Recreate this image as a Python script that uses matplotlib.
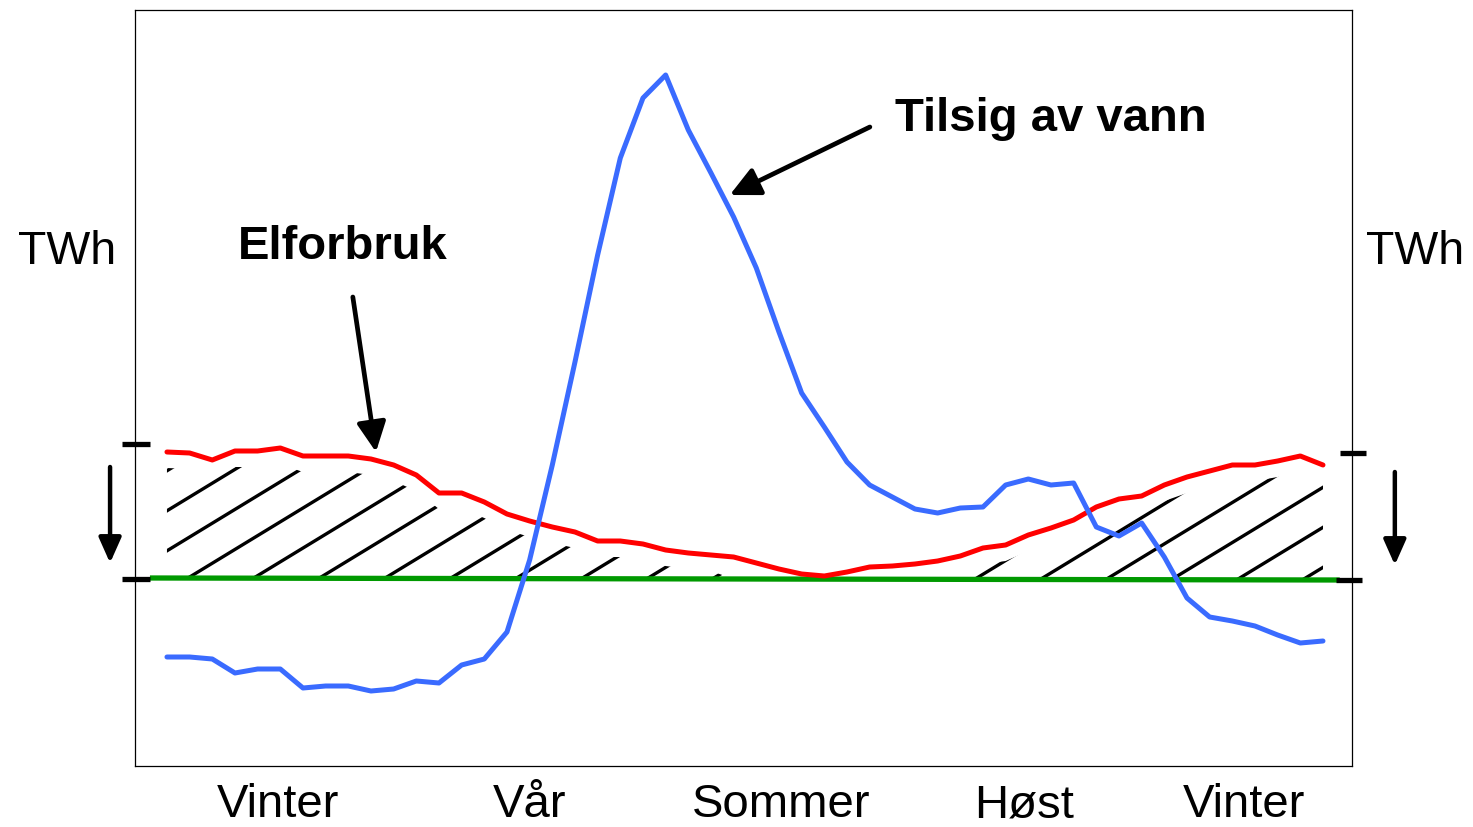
import numpy as np
import matplotlib
matplotlib.use("Agg")
import matplotlib.pyplot as plt
from matplotlib.collections import LineCollection
from matplotlib.path import Path
from matplotlib.transforms import blended_transform_factory

plt.rcParams['font.family'] = ['Liberation Sans', 'DejaVu Sans']

# ---- data (arbitrary TWh scale, week index 0..51) ----
weeks = np.arange(52)
tilsig = [-7.9, -7.9, -8.1, -9.5, -9.1, -9.1, -11.0, -10.8, -10.8, -11.3,
          -11.1, -10.3, -10.5, -8.7, -8.1, -5.4, 1.8, 11.3, 21.6, 32.3,
          42.0, 48.0, 50.3, 44.8, 40.5, 36.1, 31.0, 24.6, 18.5, 15.1,
          11.6, 9.3, 8.1, 6.9, 6.5, 7.0, 7.1, 9.3, 9.9, 9.3,
          9.5, 5.1, 4.2, 5.5, 2.1, -2.0, -3.9, -4.3, -4.8, -5.7,
          -6.5, -6.3]
elforbruk = [12.6, 12.5, 11.8, 12.7, 12.7, 13.0, 12.2, 12.2, 12.2, 11.9,
             11.3, 10.3, 8.5, 8.5, 7.6, 6.4, 5.7, 5.1, 4.6, 3.7,
             3.7, 3.4, 2.8, 2.5, 2.3, 2.1, 1.5, 0.9, 0.4, 0.2,
             0.6, 1.1, 1.2, 1.4, 1.7, 2.2, 3.0, 3.3, 4.3, 5.0,
             5.8, 7.1, 7.9, 8.2, 9.3, 10.1, 10.7, 11.3, 11.3, 11.7,
             12.2, 11.3]
base_x = [-0.75, 51.74]
base_y = [0.0, -0.2]
seasons = ['Vinter', 'Vår', 'Sommer', 'Høst', 'Vinter']
season_x = [4.9, 16.0, 27.1, 37.8, 47.5]

# ---- figure ----
W, H, DPI = 1473, 827, 100
fig = plt.figure(figsize=(W / DPI, H / DPI), dpi=DPI)
ax = fig.add_axes([135 / W, 1 - 766 / H, (1352 - 135) / W, (766 - 10) / H])
ax.set_xlim(-1.41, 52.28)
ax.set_ylim(-18.8, 56.8)
ax.set_xticks([])
ax.set_yticks([])
for s in ax.spines.values():
    s.set_linewidth(0.9)
    s.set_color('black')

el = np.array(elforbruk, dtype=float)
base_w = np.interp(weeks, base_x, base_y)

# hatch region between baseline and consumption curve
upper = el - 1.6
coll = ax.fill_between(weeks, base_w, upper, where=(el - base_w) >= 2.3,
                       interpolate=True, facecolor='none', edgecolor='none')
clip = Path.make_compound_path(*coll.get_paths())
slope = 1.38
spacing = 2.9
x0s = np.arange(0.93 - 10 * spacing, 60, spacing)
segs = [[(x0 - 1 / slope, -1), (x0 + 19 / slope, 19)] for x0 in x0s]
lc = LineCollection(segs, colors='black', linewidths=2.4, capstyle='butt', zorder=2)
ax.add_collection(lc)
lc.set_clip_path(clip, ax.transData)

# lines
ax.plot(base_x, base_y, color='#009900', lw=3.8, zorder=3, solid_capstyle='butt')
ax.plot(weeks, elforbruk, color='#ff0000', lw=3.6, zorder=4,
        solid_capstyle='round', solid_joinstyle='round')
ax.plot(weeks, tilsig, color='#3a6bff', lw=3.6, zorder=5,
        solid_capstyle='round', solid_joinstyle='round')

# small level marks and down arrows outside the frame
for (xa, xb, y) in [(-1.99, -0.75, 13.4), (-1.99, -0.75, -0.1),
                    (51.74, 52.89, 12.5), (51.56, 52.71, -0.2)]:
    ax.plot([xa, xb], [y, y], color='black', lw=3.8, clip_on=False,
            solid_capstyle='butt', zorder=6)
for (x, y0, y1) in [(-2.51, 11.1, 1.5), (54.17, 10.6, 1.3)]:
    ax.annotate('', xy=(x, y1), xytext=(x, y0), annotation_clip=False,
                arrowprops=dict(arrowstyle='-|>,head_length=0.45,head_width=0.2',
                                color='black', lw=3.2,
                                mutation_scale=34, shrinkA=0, shrinkB=0))

# annotations
for head, tail in [((9.22, 12.6), (8.2, 28.1)), ((24.83, 38.3), (31.01, 45.1))]:
    ax.annotate('', xy=head, xytext=tail,
                arrowprops=dict(arrowstyle='-|>,head_length=0.45,head_width=0.22',
                                color='black', lw=3.4,
                                mutation_scale=40, shrinkA=0, shrinkB=0))
ax.text(3.13, 31.9, 'Elforbruk', fontsize=34, fontweight='bold',
        ha='left', va='baseline')
ax.text(32.11, 44.7, 'Tilsig av vann', fontsize=34, fontweight='bold',
        ha='left', va='baseline')

# axis labels
fig.text(67 / W, 1 - 264 / H, 'TWh', fontsize=33.5, ha='center', va='baseline')
fig.text(1415 / W, 1 - 264 / H, 'TWh', fontsize=33.5, ha='center', va='baseline')

tr = blended_transform_factory(ax.transData, ax.transAxes)
for name, x in zip(seasons, season_x):
    ax.text(x, (766 - 817) / 756, name, transform=tr, fontsize=34,
            ha='center', va='baseline', clip_on=False)

fig.savefig('out.png', dpi=DPI, facecolor='white')
